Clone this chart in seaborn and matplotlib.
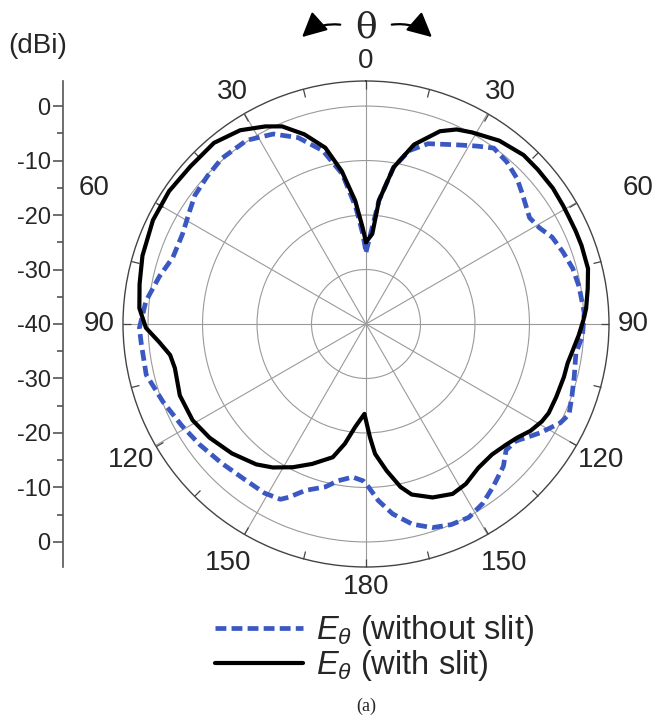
import numpy as np
import matplotlib
matplotlib.use("Agg")
import matplotlib.pyplot as plt
import seaborn as sns
from matplotlib.lines import Line2D
from matplotlib.patches import FancyArrowPatch

# theta in degrees, clockwise from top; gain in dBi
theta_slit = [0, 4, 6, 10, 15, 21, 25, 29, 36, 43, 48, 54, 59, 62, 66, 70, 76, 81, 86, 89,
              93, 97, 101, 105, 111, 116, 119, 123, 127, 131, 136, 142, 148, 153, 159, 165,
              168, 172, 176, 178, 181, 186, 190, 194, 201, 207, 213, 218, 226, 234, 241,
              249, 257, 261, 265, 269, 274, 280, 287, 296, 304, 312, 320, 327, 333, 337,
              342, 347, 351, 355, 358, 360]
gain_slit = [-25, -23.4, -17.2, -10.8, -5.9, -2.1, -0.6, 0.2, 1.6, 2.4, 2.4, 2.4, 2.2, 2.1,
             2.1, 2.1, 2.0, 1.2, 0.5, -0.1, -0.9, -1.7, -2.3, -2.4, -2.6, -2.7, -3.1, -4.0,
             -5.3, -6.1, -6.7, -6.5, -5.4, -5.0, -5.9, -7.6, -9.4, -12.8, -16.1, -19.2,
             -23.5, -21, -17.7, -14.8, -12.5, -10.5, -8.6, -7.3, -5.8, -4.5, -3.6, -3.4,
             -4.0, -3.6, -1.9, 0.4, 1.7, 2.2, 2.9, 3.5, 3.6, 3.3, 3.4, 2.4, 0.7, -0.6,
             -3.4, -6.8, -11.6, -17.3, -22.3, -25]

theta_noslit = [0, 6, 10, 14, 19, 27, 32, 36, 41, 46, 50, 57, 61, 65, 70, 75, 80, 87, 93,
                98, 104, 109, 114, 117, 122, 128, 132, 136, 142, 147, 152, 157, 162, 167,
                172, 176, 179, 181, 185, 190, 194, 200, 204, 206, 211, 218, 226, 234, 241,
                249, 257, 265, 269, 276, 283, 289, 296, 303, 307, 313, 319, 327, 334, 340,
                346, 351, 355, 358, 360]
gain_noslit = [-26.8, -17.2, -10.8, -7.2, -5, -3.1, -1.5, -0.1, -0.6, -1.5, -2.6, -4.2, -3.6,
               -2.3, -1.5, -0.7, -0.3, 0.1, -0.2, -1.1, -0.6, 0, 0.8, 0, -2.3, -5.1, -5.4,
               -3.7, -2.1, -0.7, 0.2, 0, -0.7, -2.3, -4.8, -7.5, -10, -11.2, -11.8, -10.8,
               -9.2, -7.5, -5.2, -4.2, -3.8, -3.8, -3.2, -2.3, -1.4, -0.1, 1.4, 1.4, 1.6,
               0.6, -1.1, -2.5, -2.5, -1.5, -0.7, -0.2, 0.3, 0.2, -1.2, -3.6, -7.2, -12.1,
               -18.5, -23.5, -26.8]

angle_ticks = list(range(0, 360, 30))
angle_labels = ["0", "30", "60", "90", "120", "150", "180", "150", "120", "90", "60", "30"]
ring_levels = [-30, -20, -10, 0]
scale_ticks = [-40, -30, -20, -10, 0, 10, 20, 30, 40]
scale_labels = ["0", "-10", "-20", "-30", "-40", "-30", "-20", "-10", "0"]

R_MIN, R_MAX = -40, 4.6
BLUE = "#3b58c2"

sns.set_style("white")
plt.rcParams["font.family"] = ["Liberation Sans", "DejaVu Sans"]
plt.rcParams["mathtext.fontset"] = "custom"
plt.rcParams["mathtext.it"] = "Liberation Sans:italic"
plt.rcParams["mathtext.rm"] = "Liberation Sans"

fig = plt.figure(figsize=(6.64, 7.21), dpi=100)
W, H = 664, 721

ax = fig.add_axes([123 / W, 1 - 567 / H, 486 / W, 486 / H], projection="polar")
ax.set_theta_zero_location("N")
ax.set_theta_direction(-1)

sns.lineplot(x=np.radians(theta_noslit), y=gain_noslit, ax=ax, color=BLUE, lw=3.4,
             linestyle=(0, (2.3, 1.1)), sort=False)
sns.lineplot(x=np.radians(theta_slit), y=gain_slit, ax=ax, color="black", lw=3.0, sort=False)

ax.set_rlim(R_MIN, R_MAX)
ax.set_rticks(ring_levels)
ax.set_yticklabels([])
ax.set_thetagrids(angle_ticks, [""] * len(angle_ticks))
ax.set_xticks(np.radians(np.arange(15, 360, 30)), minor=True)
ax.tick_params(axis="x", which="both", bottom=False, top=True, direction="in", length=6,
               width=0.9, color="#444444")
ax.grid(True, color="#9a9a9a", lw=0.8)
ax.spines["polar"].set_color("#444444")
ax.spines["polar"].set_linewidth(1.0)
ax.set_xlabel("")
ax.set_ylabel("")

# angle labels: (label, angle of text, radius of text)
label_pos = {0: (0, 8.3), 30: (30, 9.2), 60: (63.5, 15.8), 90: (90, 9.0), 120: (120, 9.8),
             150: (150, 10.6), 180: (180, 8.2), 210: (210, 10.6), 240: (240, 9.8),
             270: (270, 9.0), 300: (296.5, 15.8), 330: (330, 9.2)}
for ang, lab in zip(angle_ticks, angle_labels):
    t, r = label_pos[ang]
    ax.text(np.radians(t), r, lab, fontsize=20, ha="center", va="center", clip_on=False)

# linear dB scale on the left
ax2 = fig.add_axes([63 / W, 1 - 567 / H, 0.01, 486 / H])
ax2.set_ylim(-R_MAX + R_MIN, R_MAX - R_MIN)
ax2.set_yticks(scale_ticks)
ax2.set_yticklabels(scale_labels, fontsize=17)
ax2.set_yticks(np.arange(-35, 40, 10), minor=True)
ax2.tick_params(axis="y", which="major", left=True, direction="out", length=7, width=1.2,
                color="#555555", pad=2)
ax2.tick_params(axis="y", which="minor", left=True, direction="out", length=4, width=1.2,
                color="#555555")
ax2.set_xticks([])
for s in ["top", "right", "bottom"]:
    ax2.spines[s].set_visible(False)
ax2.spines["left"].set_color("#555555")
ax2.spines["left"].set_linewidth(1.2)
ax2.patch.set_alpha(0)

fig.text(8 / W, 1 - 46 / H, "(dBi)", fontsize=20, va="center", ha="left")

# theta label with arrows
fig.text(366 / W, 1 - 27 / H, "θ", fontsize=26, family="DejaVu Serif", ha="center", va="center")
arrow_kw = dict(arrowstyle="-|>,head_length=1.0,head_width=0.5", color="black", lw=1.6)
fig.add_artist(FancyArrowPatch((343 / W, 1 - 25 / H), (300 / W, 1 - 39 / H),
                               transform=fig.transFigure, connectionstyle="arc3,rad=0.25",
                               mutation_scale=15, **arrow_kw))
fig.add_artist(FancyArrowPatch((389 / W, 1 - 25 / H), (434 / W, 1 - 39 / H),
                               transform=fig.transFigure, connectionstyle="arc3,rad=-0.25",
                               mutation_scale=15, **arrow_kw))

handles = [Line2D([], [], color=BLUE, lw=3.4, linestyle=(0, (2.3, 1.1))),
           Line2D([], [], color="black", lw=3.0)]
labels = [r"$E_{\theta}$ (without slit)", r"$E_{\theta}$ (with slit)"]
fig.legend(handles, labels, loc="upper left", bbox_to_anchor=(215 / W, 1 - 613 / H),
           frameon=False, fontsize=23.5, handlelength=2.7, handletextpad=0.38,
           labelspacing=0.0, borderaxespad=0, borderpad=0)

fig.text(366 / W, 1 - 706 / H, "(a)", fontsize=13, family="Liberation Serif",
         ha="center", va="center")

fig.savefig("out.png", dpi=100)
